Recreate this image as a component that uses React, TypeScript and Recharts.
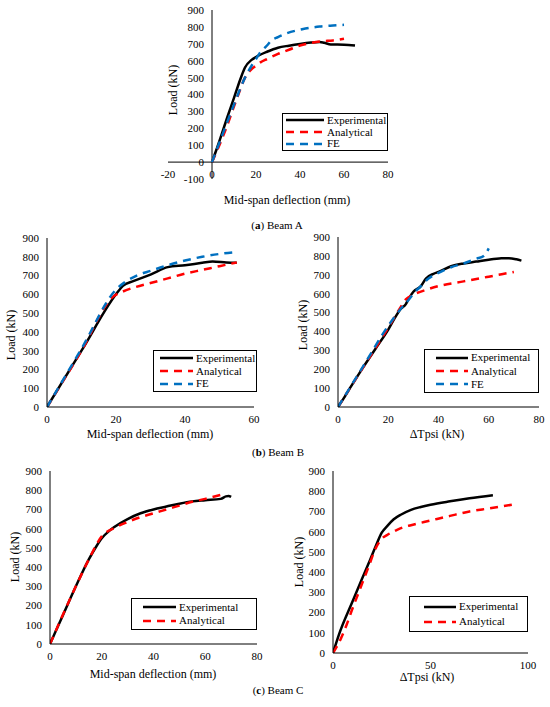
import React from "react";
import { LineChart, Line, XAxis, YAxis, ReferenceLine } from "recharts";

// [deflection or ΔTpsi, load kN]
const beamAExperimental: [number, number][] = [
  [0, 0], [3, 110], [7, 267], [10, 380], [13, 495], [15, 560], [18, 605], [20, 622],
  [25, 653], [30, 677], [35, 689], [40, 699], [45, 707], [49, 711], [51, 706], [54, 696],
  [60, 695], [65, 690],
];
const beamAAnalytical: [number, number][] = [
  [0, 0], [3, 89], [7, 220], [10, 330], [12, 400], [15, 500], [18, 550], [20, 570],
  [22, 590], [25, 610], [30, 640], [35, 665], [40, 690], [45, 705], [50, 715], [55, 720],
  [60, 730],
];
const beamAFE: [number, number][] = [
  [0, 0], [5, 170], [10, 340], [15, 500], [18, 570], [20, 610], [22, 650], [25, 690],
  [27, 720], [30, 740], [34, 762], [41, 786], [49, 802], [55, 808], [60, 812],
];

const beamBDeflExperimental: [number, number][] = [
  [0, 0], [10, 300], [20, 600], [22, 645], [25, 670], [30, 705], [35, 745], [40, 755],
  [45, 768], [48, 775], [52, 770], [55, 768],
];
const beamBDeflAnalytical: [number, number][] = [
  [0, 0], [10, 300], [19, 585], [22, 615], [25, 635], [30, 660], [35, 685], [40, 710],
  [45, 730], [50, 750], [55, 770],
];
const beamBDeflFE: [number, number][] = [
  [0, 0], [10, 310], [20, 625], [23, 670], [26, 700], [30, 725], [35, 755], [40, 780],
  [45, 800], [50, 815], [55, 825],
];

const beamBTpsiExperimental: [number, number][] = [
  [0, 0], [2, 40], [5, 105], [10, 210], [15, 310], [20, 410], [23, 480], [25, 520],
  [27, 545], [28, 570], [30, 610], [33, 640], [35, 680], [38, 705], [40, 715], [45, 745],
  [50, 760], [55, 770], [60, 780], [65, 787], [68, 788], [71, 782], [73, 775],
];
const beamBTpsiAnalytical: [number, number][] = [
  [0, 0], [10, 210], [20, 420], [25, 530], [27, 570], [30, 595], [35, 620], [40, 640],
  [50, 665], [60, 690], [70, 715],
];
const beamBTpsiFE: [number, number][] = [
  [0, 0], [10, 215], [20, 430], [25, 520], [28, 565], [30, 600], [33, 640], [36, 680],
  [40, 710], [45, 740], [50, 760], [55, 785], [58, 800], [60, 840],
];

const beamCDeflExperimental: [number, number][] = [
  [0, 0], [5, 150], [10, 300], [15, 440], [18, 510], [20, 550], [23, 590], [25, 610],
  [30, 650], [35, 680], [40, 700], [45, 715], [50, 730], [55, 742], [60, 748], [66, 755],
  [68, 768], [69, 770], [70, 765],
];
const beamCDeflAnalytical: [number, number][] = [
  [0, 0], [10, 300], [15, 440], [20, 560], [25, 605], [30, 635], [35, 660], [40, 680],
  [45, 700], [50, 720], [55, 740], [60, 755], [67, 780],
];

const beamCTpsiExperimental: [number, number][] = [
  [0, 0], [3, 90], [10, 255], [15, 370], [19, 460], [22, 530], [25, 595], [28, 630],
  [31, 660], [35, 685], [40, 708], [45, 722], [50, 733], [60, 750], [70, 765], [82, 780],
];
const beamCTpsiAnalytical: [number, number][] = [
  [0, 0], [3, 50], [7, 140], [10, 220], [14, 320], [18, 420], [22, 520], [25, 565],
  [28, 585], [32, 605], [36, 622], [40, 632], [50, 655], [60, 678], [70, 700], [80, 715],
  [93, 735],
];

const loadTicks = [0, 100, 200, 300, 400, 500, 600, 700, 800, 900];
const loadTicksA = [-100, ...loadTicks];
const xTicksA = [-20, 0, 20, 40, 60, 80];
const xTicks60 = [0, 20, 40, 60];
const xTicks80 = [0, 20, 40, 60, 80];
const xTicks100 = [0, 50, 100];

const FONT = '"Liberation Serif", "Times New Roman", serif';
const EXP = { name: "Experimental", color: "#000000", dash: undefined as string | undefined };
const ANA = { name: "Analytical", color: "#FF0000", dash: "8 6" };
const FEM = { name: "FE", color: "#0070C0", dash: "8 6" };

const toPoints = (d: [number, number][]) => d.map(([x, y]) => ({ x, y }));

type Rect = { l: number; t: number; r: number; b: number };
type Series = { name: string; color: string; dash?: string; data: [number, number][] };

function Panel({
  rect, xDomain, xTicks, yDomain, yTicks, series, cross,
}: {
  rect: Rect; xDomain: [number, number]; xTicks: number[]; yDomain: [number, number];
  yTicks: number[]; series: Series[]; cross?: boolean;
}) {
  const W = rect.r - rect.l;
  const H = rect.b - rect.t;
  const padL = 46, padT = 8, padB = 30, padR = 14;
  // offsets that move tick labels onto the zero lines (Excel-style crossing axes)
  const shiftX = cross ? ((0 - xDomain[0]) / (xDomain[1] - xDomain[0])) * W : 0;
  const shiftY = cross ? ((0 - yDomain[0]) / (yDomain[1] - yDomain[0])) * H : 0;
  const tickStyle = { fontFamily: FONT, fontSize: 11, fill: "#000" };

  return (
    <div style={{ position: "absolute", left: rect.l - padL, top: rect.t - padT }}>
      <LineChart
        width={W + padL + padR}
        height={H + padT + padB}
        margin={{ top: padT, right: padR, left: 0, bottom: 0 }}
      >
        <XAxis
          type="number"
          dataKey="x"
          domain={xDomain}
          ticks={xTicks}
          height={padB}
          allowDataOverflow
          axisLine={cross ? false : { stroke: "#000" }}
          tickLine={false}
          interval={0}
          tick={(p: any) => (
            <text key={`x${p.payload.value}`} x={p.x} y={p.y - shiftY} dy="0.71em" textAnchor="middle" style={tickStyle}>
              {p.payload.value}
            </text>
          )}
        />
        <YAxis
          type="number"
          domain={yDomain}
          ticks={yTicks}
          width={padL}
          allowDataOverflow
          axisLine={cross ? false : { stroke: "#000" }}
          tickLine={false}
          interval={0}
          tick={(p: any) => (
            <text key={`y${p.payload.value}`} x={p.x + shiftX} y={p.y} dy="0.355em" textAnchor="end" style={tickStyle}>
              {p.payload.value}
            </text>
          )}
        />
        {cross && <ReferenceLine y={0} stroke="#000" strokeWidth={1} />}
        {cross && <ReferenceLine x={0} stroke="#000" strokeWidth={1} />}
        {series.map((s) => (
          <Line
            key={s.name}
            data={toPoints(s.data)}
            dataKey="y"
            type="monotone"
            stroke={s.color}
            strokeWidth={2.5}
            strokeDasharray={s.dash}
            dot={false}
            isAnimationActive={false}
          />
        ))}
      </LineChart>
    </div>
  );
}

function LegendBox({
  l, t, w, h, padLeft, sample, items,
}: {
  l: number; t: number; w: number; h: number; padLeft: number; sample: number;
  items: { name: string; color: string; dash?: string }[];
}) {
  return (
    <div
      style={{
        position: "absolute", left: l, top: t, width: w, height: h, boxSizing: "border-box",
        border: "1px solid #000", background: "#fff", display: "flex", flexDirection: "column",
        justifyContent: "space-evenly", fontFamily: FONT, fontSize: 11, color: "#000",
      }}
    >
      {items.map((it) => (
        <div key={it.name} style={{ display: "flex", alignItems: "center", paddingLeft: padLeft, lineHeight: "11px" }}>
          <svg width={sample} height={6} style={{ marginRight: 3 }}>
            <line x1={0} y1={3} x2={sample} y2={3} stroke={it.color} strokeWidth={2.5} strokeDasharray={it.dash} />
          </svg>
          <span>{it.name}</span>
        </div>
      ))}
    </div>
  );
}

function Txt({ x, y, children, rotate, size = 12 }: { x: number; y: number; children: React.ReactNode; rotate?: boolean; size?: number }) {
  return (
    <div
      style={{
        position: "absolute", left: x, top: y, whiteSpace: "nowrap", fontFamily: FONT, fontSize: size,
        color: "#000", lineHeight: 1, transform: `translate(-50%, -50%)${rotate ? " rotate(-90deg)" : ""}`,
      }}
    >
      {children}
    </div>
  );
}

export default function App() {
  return (
    <div style={{ position: "absolute", left: 0, top: 0, width: 550, height: 707, background: "#fff", overflow: "hidden" }}>
      {/* (a) Beam A */}
      <Panel
        rect={{ l: 168, t: 10, r: 388, b: 179 }}
        xDomain={[-20, 80]} xTicks={xTicksA} yDomain={[-100, 900]} yTicks={loadTicksA} cross
        series={[{ ...EXP, data: beamAExperimental }, { ...ANA, data: beamAAnalytical }, { ...FEM, data: beamAFE }]}
      />
      <LegendBox l={282} t={113} w={106} h={38} padLeft={3} sample={38} items={[EXP, ANA, FEM]} />
      <Txt x={287} y={200}>Mid-span deflection (mm)</Txt>
      <Txt x={173} y={90} rotate>Load (kN)</Txt>
      <Txt x={277} y={225} size={11}>(<b>a</b>) Beam A</Txt>

      {/* (b) Beam B */}
      <Panel
        rect={{ l: 47, t: 238, r: 254, b: 407 }}
        xDomain={[0, 60]} xTicks={xTicks60} yDomain={[0, 900]} yTicks={loadTicks}
        series={[{ ...EXP, data: beamBDeflExperimental }, { ...ANA, data: beamBDeflAnalytical }, { ...FEM, data: beamBDeflFE }]}
      />
      <LegendBox l={153} t={350} w={104} h={42} padLeft={6} sample={33} items={[EXP, ANA, FEM]} />
      <Txt x={150} y={434}>Mid-span deflection (mm)</Txt>
      <Txt x={11} y={335} rotate>Load (kN)</Txt>

      <Panel
        rect={{ l: 338, t: 237, r: 539, b: 407 }}
        xDomain={[0, 80]} xTicks={xTicks80} yDomain={[0, 900]} yTicks={loadTicks}
        series={[{ ...EXP, data: beamBTpsiExperimental }, { ...ANA, data: beamBTpsiAnalytical }, { ...FEM, data: beamBTpsiFE }]}
      />
      <LegendBox l={424} t={349} w={115} h={44} padLeft={11} sample={32} items={[EXP, ANA, FEM]} />
      <Txt x={437} y={434}>ΔTpsi (kN)</Txt>
      <Txt x={303} y={325} rotate>Load (kN)</Txt>
      <Txt x={278} y={452} size={11}>(<b>b</b>) Beam B</Txt>

      {/* (c) Beam C */}
      <Panel
        rect={{ l: 50, t: 471, r: 257, b: 644 }}
        xDomain={[0, 80]} xTicks={xTicks80} yDomain={[0, 900]} yTicks={loadTicks}
        series={[{ ...EXP, data: beamCDeflExperimental }, { ...ANA, data: beamCDeflAnalytical }]}
      />
      <LegendBox l={131} t={598} w={126} h={32} padLeft={11} sample={33} items={[EXP, ANA]} />
      <Txt x={153} y={674}>Mid-span deflection (mm)</Txt>
      <Txt x={15} y={557} rotate>Load (kN)</Txt>

      <Panel
        rect={{ l: 333, t: 471, r: 528, b: 653 }}
        xDomain={[0, 100]} xTicks={xTicks100} yDomain={[0, 900]} yTicks={loadTicks}
        series={[{ ...EXP, data: beamCTpsiExperimental }, { ...ANA, data: beamCTpsiAnalytical }]}
      />
      <LegendBox l={409} t={596} w={119} h={36} padLeft={14} sample={32} items={[EXP, ANA]} />
      <Txt x={427} y={677}>ΔTpsi (kN)</Txt>
      <Txt x={299} y={562} rotate>Load (kN)</Txt>
      <Txt x={278} y={690} size={11}>(<b>c</b>) Beam C</Txt>
    </div>
  );
}
